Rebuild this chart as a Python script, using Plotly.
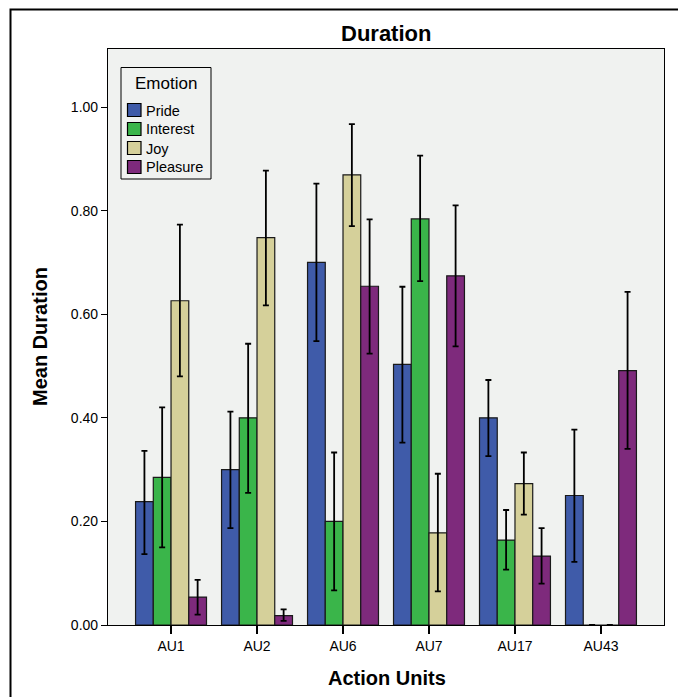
import plotly.graph_objects as go

categories = ["AU1", "AU2", "AU6", "AU7", "AU17", "AU43"]
series_names = ["Pride", "Interest", "Joy", "Pleasure"]
colors = ["#3F5BA9", "#3AB54A", "#D5D09A", "#7E2A7C"]
legend_title = "Emotion"
y_ticks = [0, 0.2, 0.4, 0.6, 0.8, 1.0]

pride = [0.238, 0.300, 0.700, 0.503, 0.400, 0.250]
pride_lo = [0.137, 0.187, 0.548, 0.352, 0.326, 0.122]
pride_hi = [0.336, 0.412, 0.852, 0.653, 0.473, 0.377]

interest = [0.285, 0.400, 0.200, 0.784, 0.164, 0.0]
interest_lo = [0.150, 0.255, 0.067, 0.664, 0.107, None]
interest_hi = [0.420, 0.543, 0.333, 0.906, 0.222, None]

joy = [0.626, 0.748, 0.869, 0.178, 0.273, 0.0]
joy_lo = [0.480, 0.617, 0.770, 0.065, 0.213, None]
joy_hi = [0.773, 0.877, 0.967, 0.292, 0.333, None]

pleasure = [0.054, 0.018, 0.654, 0.674, 0.133, 0.491]
pleasure_lo = [0.020, 0.008, 0.524, 0.538, 0.080, 0.340]
pleasure_hi = [0.087, 0.030, 0.783, 0.810, 0.187, 0.643]

values = [pride, interest, joy, pleasure]
lows = [pride_lo, interest_lo, joy_lo, pleasure_lo]
highs = [pride_hi, interest_hi, joy_hi, pleasure_hi]

FONT = "Arial, Liberation Sans, sans-serif"
BG = "#F0F2F0"

# page has an 8px body margin; figure is laid out in reference-pixel terms
OFF = 8
W, H = 686 - OFF, 697 - OFF
PLOT_L, PLOT_R, PLOT_T, PLOT_B = 108, 664, 49, 625  # reference pixels
L = PLOT_L - OFF
R = W - (PLOT_R - OFF)
T = PLOT_T - OFF
B = H - (PLOT_B - OFF)
pw, ph = W - L - R, H - T - B


def px(xr):
    return (xr - OFF - L) / pw


def py(yr):
    return (H - B - (yr - OFF)) / ph


fig = go.Figure()
for name, col, v, lo, hi in zip(series_names, colors, values, lows, highs):
    plus = [(h - x) if h is not None else None for x, h in zip(v, hi)]
    minus = [(x - l) if l is not None else None for x, l in zip(v, lo)]
    fig.add_trace(go.Bar(
        name=name, x=categories, y=v, showlegend=False,
        marker=dict(color=col, line=dict(color="#1a1a1a", width=1.2)),
        error_y=dict(type="data", symmetric=False, array=plus, arrayminus=minus,
                     color="#000000", thickness=1.8, width=3),
    ))

shapes = [
    # outer frame
    dict(type="rect", xref="paper", yref="paper",
         x0=px(10.5), x1=px(680), y0=py(710), y1=py(9.5),
         line=dict(color="#000000", width=2), fillcolor="rgba(0,0,0,0)", layer="above"),
    # legend box
    dict(type="rect", xref="paper", yref="paper",
         x0=px(121), x1=px(211), y0=py(179), y1=py(67.5),
         line=dict(color="#000000", width=1), fillcolor=BG, layer="above"),
]
annotations = [
    dict(text="<b>Duration</b>", xref="paper", yref="paper", x=px(386), y=py(33),
         xanchor="center", yanchor="middle", showarrow=False, font=dict(size=22, family=FONT)),
    dict(text="<b>Action Units</b>", xref="paper", yref="paper", x=px(387), y=py(678),
         xanchor="center", yanchor="middle", showarrow=False, font=dict(size=20, family=FONT)),
    dict(text="<b>Mean Duration</b>", xref="paper", yref="paper", x=px(40), y=py(337),
         xanchor="center", yanchor="middle", showarrow=False, textangle=-90,
         font=dict(size=20, family=FONT)),
    dict(text=legend_title, xref="paper", yref="paper", x=px(166), y=py(83),
         xanchor="center", yanchor="middle", showarrow=False, font=dict(size=17, family=FONT)),
]
row_y = [110, 129, 148, 167]
for name, col, yy in zip(series_names, colors, row_y):
    shapes.append(dict(type="rect", xref="paper", yref="paper",
                       x0=px(127.5), x1=px(141), y0=py(yy + 6.5), y1=py(yy - 6.5),
                       line=dict(color="#000000", width=1.2), fillcolor=col, layer="above"))
    annotations.append(dict(text=name, xref="paper", yref="paper", x=px(144), y=py(yy + 0.5),
                            xanchor="left", yanchor="middle", showarrow=False,
                            font=dict(size=14.5, family=FONT)))

fig.update_layout(
    width=W, height=H,
    margin=dict(l=L, r=R, t=T, b=B),
    paper_bgcolor="white",
    plot_bgcolor=BG,
    barmode="group",
    bargap=0.175,
    bargroupgap=0,
    showlegend=False,
    font=dict(family=FONT, color="#000000", size=14),
    xaxis=dict(
        range=[-0.733, 5.733],
        showline=True, linecolor="#000000", linewidth=1.2, mirror=True,
        ticks="outside", ticklen=8, tickwidth=1.5, tickcolor="#000000",
        tickfont=dict(size=14, family=FONT),
        showgrid=False,
    ),
    yaxis=dict(
        range=[0, (PLOT_B - PLOT_T) / 518.0],
        tickvals=y_ticks,
        tickformat=".2f",
        showline=True, linecolor="#000000", linewidth=1.2, mirror=True,
        ticks="outside", ticklen=6, tickwidth=1.2, tickcolor="#000000",
        tickfont=dict(size=14, family=FONT),
        showgrid=False, zeroline=False,
    ),
    shapes=shapes,
    annotations=annotations,
)

fig.write_html("out.html")
